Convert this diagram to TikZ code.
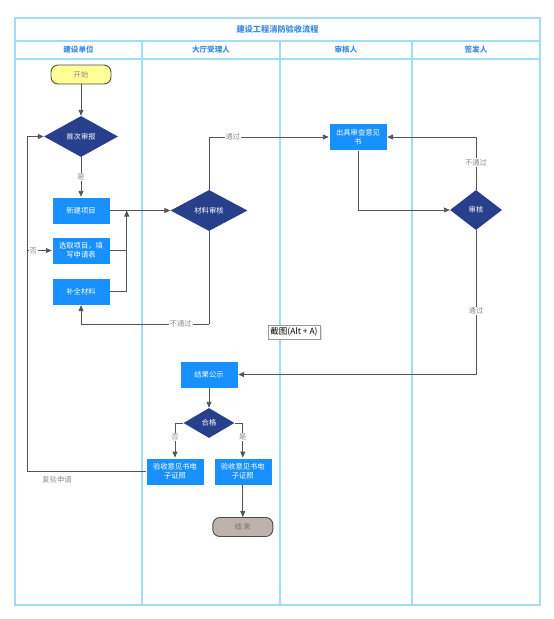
\documentclass[tikz,border=0pt]{standalone}
\usepackage{fontspec}
\setmainfont{Noto Sans CJK SC}
\usetikzlibrary{
	arrows.meta,
	calc,
	positioning,
	shapes.geometric,
	shadows,
}
\definecolor{lane}{RGB}{160,222,248}
\definecolor{headblue}{RGB}{60,140,225}
\definecolor{procblue}{RGB}{24,144,255}
\definecolor{decblue}{RGB}{40,64,140}
\definecolor{startyel}{RGB}{255,255,150}
\definecolor{endgray}{RGB}{190,178,172}
\definecolor{linegray}{RGB}{85,85,85}
\definecolor{lblgray}{RGB}{140,140,140}
\tikzset{proc box/.style={draw=white,fill=procblue,text=white,minimum width=58pt,minimum height=27pt,inner sep=1pt,font=\fontsize{7.3}{9}\selectfont,align=center,}}
\tikzset{decision/.style={diamond,fill=decblue,text=white,inner sep=0pt,font=\fontsize{7.3}{9}\selectfont,}}
\tikzset{terminal/.style={draw=black!70,line width=0.9pt,rounded corners=7pt,minimum width=60pt,minimum height=19pt,inner sep=0pt,font=\fontsize{7.3}{9}\selectfont,}}
\tikzset{flow/.style={draw=linegray,line width=0.9pt,-{Triangle[length=6pt,width=5pt]}}}
\tikzset{link/.style={draw=linegray,line width=0.9pt}}
\tikzset{tag/.style={fill=white,text=lblgray,inner sep=1pt,font=\fontsize{7.3}{9}\selectfont,}}
\tikzset{lane line/.style={draw=lane,line width=1.5pt}}
\tikzset{head/.style={text=headblue,font=\fontsize{7.6}{9}\selectfont\bfseries,}}

\begin{document}
\begin{tikzpicture}[x=1pt,y=-1pt]
\useasboundingbox (0,0) rectangle (554,619);

% swimlanes
\draw[lane line] (15,18) rectangle (540,605);
\draw[lane line] (15,41) -- (540,41);
\draw[lane line] (15,59) -- (540,59);
\foreach \x in {142,280,412}{
	\draw[lane line] (\x,41) -- (\x,605);
}
\node[head,font=\fontsize{8.2}{9}\selectfont\bfseries] (title) at (277.5,29.5) {建设工程消防验收流程};
\foreach \n/\x/\t in {a/78.5/建设单位,b/211/大厅受理人,c/346/审核人,d/476/签发人}{
	\node[head] (lane\n) at (\x,50) {\t};
}

% nodes
\node[terminal,fill=startyel,text=lblgray] (start) at (81,74.5) {开始};
\node[decision,minimum width=74pt,minimum height=41pt] (first) at (81,136.5) {首次审报};
\node[proc box] (newp) at (81,210.5) {新建项目};
\node[proc box] (pick) at (81,250.5) {选取项目，填\\写申请表};
\node[proc box] (supp) at (81,291.5) {补全材料};
\node[decision,minimum width=77pt,minimum height=41pt] (mat) at (209,210.5) {材料审核};
\node[proc box] (opin) at (358,137) {出具审查意见\\书};
\node[decision,minimum width=52pt,minimum height=40pt] (rev) at (476,210) {审核};
\node[proc box] (pub) at (209,374.5) {结果公示};
\node[decision,minimum width=51pt,minimum height=30pt] (ok) at (209,423) {合格};
\node[proc box] (certa) at (175,471.3) {验收意见书电\\子证照};
\node[proc box] (certb) at (242.8,471.3) {验收意见书电\\子证照};
\node[terminal,fill=endgray,text=black!55] (finish) at (242.8,527) {结\,束};
\node[draw=black!40,fill=white,drop shadow={opacity=0.25,shadow xshift=1.5pt,shadow yshift=-1.5pt},inner sep=2.5pt,font=\fontsize{8.5}{10}\selectfont] (shot) at (294,332) {截图(Alt + A)};

% helper points
\coordinate (merge) at (126.7,210.5);
\coordinate (loopb) at (27,471.3);
\coordinate (loopm) at (27,250.5);
\coordinate (back) at (209,324);

% connectors
\draw[flow] (start) -- (first);
\draw[flow] (first) -- node[tag]{是} (newp);
\draw[flow] (newp) -- (mat);
\draw[link] (pick) -| (merge);
\draw[flow] (supp) -| (merge);
\draw[flow] (loopm) -- node[tag,pos=0.25]{否} (pick);
\draw[flow] (certa) -- (loopb) |- (first);
\node[tag,fill=none] (again) at (57,480) {复验申请};
\draw[flow] (mat.north) |- node[tag,pos=0.6]{通过} (opin);
\draw[link] (mat.south) -- (back);
\draw[flow] (back) -| node[tag,pos=0.11]{不通过} (supp);
\draw[flow] (opin.south) |- (rev);
\draw[flow] (rev.north) |- node[tag,pos=0.26]{不通过} (opin);
\draw[flow] (rev.south) |- node[tag,pos=0.28]{通过} (pub);
\draw[flow] (pub) -- (ok);
\draw[flow] (ok.west) -| node[tag,pos=0.7]{否} (certa);
\draw[flow] (ok.east) -| node[tag,pos=0.7]{是} (certb);
\draw[flow] (certb) -- (finish);

\end{tikzpicture}
\end{document}
